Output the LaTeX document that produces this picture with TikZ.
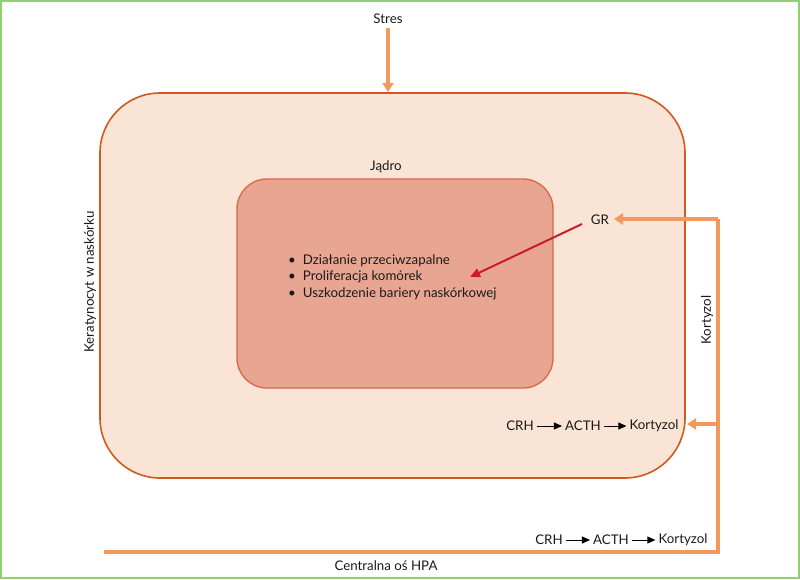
\documentclass[tikz,border=0pt]{standalone}
\usepackage{fontspec}
\setmainfont{Lato}
\usetikzlibrary{arrows.meta}
\definecolor{cellfill}{HTML}{F9E4D6}
\definecolor{cellline}{HTML}{CF5A1E}
\definecolor{nucfill}{HTML}{E8A692}
\definecolor{nucline}{HTML}{DA6A48}
\definecolor{orangearr}{HTML}{F2995E}
\definecolor{redarr}{HTML}{C81E28}
\definecolor{frame}{HTML}{8DD26A}
\definecolor{txt}{HTML}{1A1A1A}
\tikzset{
  lbl/.style={font=\fontsize{13.3}{16.5}\selectfont, text=txt, inner sep=1pt},
  oarrow/.style={draw=orangearr, line width=3.5pt, -{Triangle[length=9pt,width=11pt]}},
  oline/.style={draw=orangearr, line width=3.5pt},
  smallarr/.style={draw=black, line width=0.9pt, -{Triangle[length=8pt,width=7pt]}, shorten <=2pt, shorten >=2pt},
}
\begin{document}
\begin{tikzpicture}[x=1pt,y=-1pt]
\useasboundingbox (0,0) rectangle (800,579);
\draw[frame, line width=2pt] (1,1) rectangle (799,578);
% cell
\draw[cellline, fill=cellfill, line width=1.6pt, rounded corners=60pt] (100,93) rectangle (685,478);
% nucleus
\draw[nucline, fill=nucfill, line width=1.4pt, rounded corners=30pt] (237,179) rectangle (553,388);
% texts
\node[lbl] (stres) at (388,19) {Stres};
\node[lbl] (jadro) at (386,167) {Jądro};
\node[lbl] (gr) at (600,220) {GR};
\node[lbl, rotate=90] (kerat) at (90,282) {Keratynocyt w naskórku};
\node[lbl, rotate=90] (kort) at (707,320) {Kortyzol};
\node[lbl] (hpa) at (386,566) {Centralna oś HPA};
\node[lbl, anchor=west, align=left] (list) at (287,277) {%
\textbullet\hspace{7pt}Działanie przeciwzapalne\\
\textbullet\hspace{7pt}Proliferacja komórek\\
\textbullet\hspace{7pt}Uszkodzenie bariery naskórkowej};
% CRH chains
\node[lbl] (crh1) at (520,426) {CRH};
\node[lbl] (acth1) at (583,426) {ACTH};
\node[lbl] (kor1) at (654,426) {Kortyzol};
\draw[smallarr] (crh1) -- (acth1);
\draw[smallarr] (acth1) -- (kor1);
\node[lbl] (crh2) at (549,540) {CRH};
\node[lbl] (acth2) at (611,540) {ACTH};
\node[lbl] (kor2) at (683,540) {Kortyzol};
\draw[smallarr] (crh2) -- (acth2);
\draw[smallarr] (acth2) -- (kor2);
% coordinates
\coordinate (stresend) at (388,92);
\coordinate (bl) at (104,552);
\coordinate (br) at (718,552);
\coordinate (tr) at (718,219);
\coordinate (mr) at (718,424);
\coordinate (cellin) at (687,424);
\coordinate (grin) at (614,219);
% orange arrows
\draw[oarrow] (stres.south) ++(0,3) -- (stresend);
\draw[oline] (bl) -- (br) -- (tr);
\draw[oarrow] (tr) -- (grin);
\draw[oarrow] (mr) -- (cellin);
% red arrow
\coordinate (redstart) at (582,224);
\coordinate (redend) at (470,277);
\draw[redarr, line width=2pt, -{Triangle[length=10pt,width=9pt]}] (redstart) -- (redend);
\end{tikzpicture}
\end{document}
